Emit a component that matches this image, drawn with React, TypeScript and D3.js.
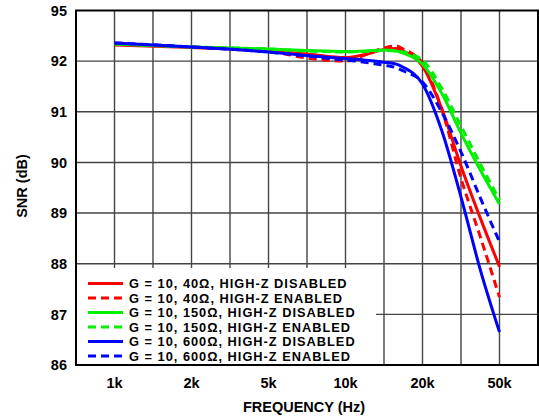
import React from "react";
import * as d3 from "d3";

const freqs = [1000, 2000, 5000, 7070, 10000, 11900, 14100, 15800, 16800, 20000, 25100, 31600, 39800, 50000];

const red40Disabled = [92.32, 92.27, 92.2, 92.14, 92.07, 92.13, 92.23, 92.25, 92.2, 91.9, 91.07, 89.93, 88.9, 87.94];
const red40Enabled = [92.34, 92.28, 92.2, 92.06, 92.0, 92.12, 92.26, 92.3, 92.24, 91.96, 91.06, 89.69, 88.53, 87.34];
const green150Disabled = [92.34, 92.28, 92.24, 92.21, 92.19, 92.2, 92.22, 92.2, 92.16, 91.94, 91.37, 90.58, 89.85, 89.18];
const green150Enabled = [92.34, 92.28, 92.24, 92.2, 92.18, 92.19, 92.21, 92.2, 92.18, 92.02, 91.47, 90.72, 89.97, 89.26];
const blue600Disabled = [92.36, 92.28, 92.18, 92.11, 92.05, 92.02, 91.98, 91.94, 91.88, 91.55, 90.64, 89.32, 87.88, 86.65];
const blue600Enabled = [92.36, 92.28, 92.18, 92.1, 92.02, 91.98, 91.92, 91.87, 91.81, 91.59, 91.0, 90.21, 89.3, 88.43];

const xTickValues = [1000, 2000, 5000, 10000, 20000, 50000];
const xTickLabels = ["1k", "2k", "5k", "10k", "20k", "50k"];
const xGridValues = [1000, 1414, 2000, 3162, 5000, 7071, 10000, 14142, 20000, 31623, 50000];
const yTickValues = [86, 87, 88, 89, 90, 91, 92, 93];
const yTickLabels = ["86", "87", "88", "89", "90", "91", "92", "95"];

const seriesNames = [
  "G = 10, 40\u03A9, HIGH-Z DISABLED",
  "G = 10, 40\u03A9, HIGH-Z ENABLED",
  "G = 10, 150\u03A9, HIGH-Z DISABLED",
  "G = 10, 150\u03A9, HIGH-Z ENABLED",
  "G = 10, 600\u03A9, HIGH-Z DISABLED",
  "G = 10, 600\u03A9, HIGH-Z ENABLED",
];
const seriesValues = [red40Disabled, red40Enabled, green150Disabled, green150Enabled, blue600Disabled, blue600Enabled];
const seriesColors = ["#ff0000", "#ff0000", "#00f000", "#00f000", "#0000ff", "#0000ff"];
const seriesDashed = [false, true, false, true, false, true];

const W = 539;
const H = 419;
const left = 76;
const right = 538;
const top = 10.5;
const bottom = 365;
const font = "'Liberation Sans', Arial, Helvetica, sans-serif";

export default function App() {
  const x = d3
    .scaleLog()
    .domain(xTickValues)
    .range([114.5, 191.5, 268.5, 345.5, 422.5, 499.5]);
  const y = d3.scaleLinear().domain([86, 93]).range([bottom, top]);

  const line = d3
    .line<number>()
    .x((_, i) => x(freqs[i]))
    .y((d) => y(d))
    .curve(d3.curveMonotoneX);

  const legX = 88;
  const legY0 = 283.5;
  const legDy = 14.5;
  const axisFs = 14.5;

  return (
    <svg width={W} height={H} style={{ position: "absolute", left: 0, top: 0, background: "#fff" }}>
      <rect x={0} y={0} width={W} height={H} fill="#fff" />
      {xGridValues.map((f, i) => (
        <line key={"xg" + i} x1={x(f)} x2={x(f)} y1={top} y2={bottom} stroke="#444" strokeWidth={1.4} />
      ))}
      {yTickValues.slice(1, -1).map((v, i) => (
        <line key={"yg" + i} x1={left} x2={right} y1={y(v)} y2={y(v)} stroke="#444" strokeWidth={1.4} />
      ))}
      {seriesValues.map((vals, i) => (
        <path
          key={"s" + i}
          d={line(vals) || ""}
          fill="none"
          stroke={seriesColors[i]}
          strokeWidth={3}
          strokeDasharray={seriesDashed[i] ? "8 5" : undefined}
        />
      ))}
      <rect x={left + 1} y={268} width={376 - left - 1} height={bottom - 268} fill="#fff" />
      {seriesNames.map((name, i) => (
        <g key={"lg" + i}>
          <line
            x1={legX}
            x2={legX + 35}
            y1={legY0 + i * legDy}
            y2={legY0 + i * legDy}
            stroke={seriesColors[i]}
            strokeWidth={3}
            strokeDasharray={seriesDashed[i] ? "8 5" : undefined}
          />
          <text
            x={legX + 41}
            y={legY0 + i * legDy}
            dy="0.36em"
            fontFamily={font}
            fontWeight="bold"
            fontSize={12.8}
            letterSpacing={1.0}
            fill="#000"
          >
            {name}
          </text>
        </g>
      ))}
      <rect x={left} y={top} width={right - left} height={bottom - top} fill="none" stroke="#000" strokeWidth={2} />
      {yTickValues.map((v, i) => (
        <text
          key={"yt" + i}
          x={67}
          y={y(v)}
          dy="0.36em"
          textAnchor="end"
          fontFamily={font}
          fontWeight="bold"
          fontSize={axisFs}
          fill="#000"
        >
          {yTickLabels[i]}
        </text>
      ))}
      {xTickValues.map((f, i) => (
        <text
          key={"xt" + i}
          x={x(f)}
          y={383}
          dy="0.36em"
          textAnchor="middle"
          fontFamily={font}
          fontWeight="bold"
          fontSize={axisFs}
          fill="#000"
        >
          {xTickLabels[i]}
        </text>
      ))}
      <text
        x={(left + right) / 2 - 3}
        y={407}
        dy="0.36em"
        textAnchor="middle"
        fontFamily={font}
        fontWeight="bold"
        fontSize={axisFs}
        fill="#000"
      >
        FREQUENCY (Hz)
      </text>
      <text
        transform={`translate(22, 186) rotate(-90)`}
        dy="0.36em"
        textAnchor="middle"
        fontFamily={font}
        fontWeight="bold"
        fontSize={axisFs}
        fill="#000"
      >
        SNR (dB)
      </text>
    </svg>
  );
}
